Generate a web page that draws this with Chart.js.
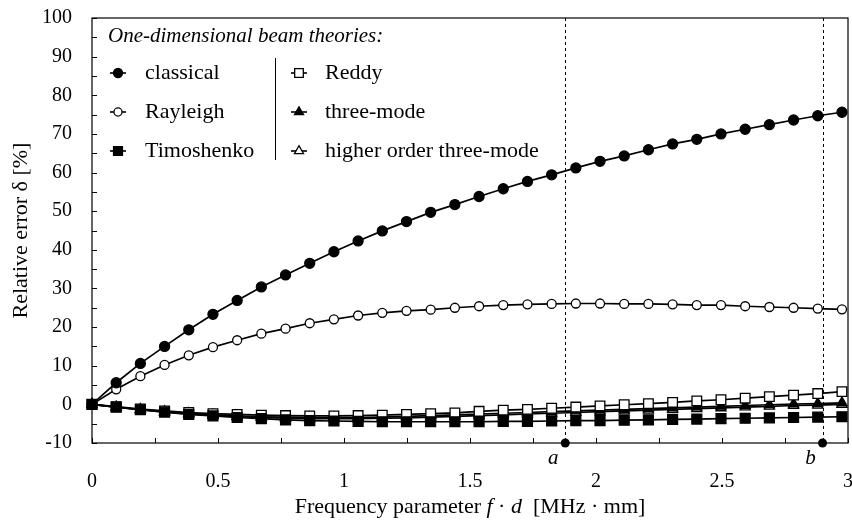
<!DOCTYPE html>
<html>
<head>
<meta charset="utf-8">
<script src="https://cdn.jsdelivr.net/npm/chart.js@4.4.1/dist/chart.umd.min.js"></script>
<style>
  html, body { margin: 0; padding: 0; background: #fff; }
  #wrap { width: 852px; height: 520px; }
</style>
</head>
<body>
<div id="wrap"><canvas id="errChart" width="852" height="520"></canvas></div>
<script>
// ── Data ───────────────────────────────────────────────────────────────────
const fd = [0, 0.096, 0.192, 0.288, 0.384, 0.48, 0.576, 0.672, 0.768, 0.864, 0.96,
            1.056, 1.152, 1.248, 1.344, 1.44, 1.536, 1.632, 1.728, 1.824, 1.92,
            2.016, 2.112, 2.208, 2.304, 2.4, 2.496, 2.592, 2.688, 2.784, 2.88, 2.976];

const classical  = [0, 5.6, 10.6, 15.0, 19.3, 23.3, 26.9, 30.4, 33.5, 36.5, 39.5,
                    42.3, 44.9, 47.3, 49.7, 51.7, 53.8, 55.8, 57.7, 59.4, 61.2,
                    62.9, 64.3, 65.9, 67.4, 68.6, 70.0, 71.2, 72.4, 73.6, 74.7, 75.6];
const rayleigh   = [0, 3.9, 7.3, 10.2, 12.7, 14.8, 16.6, 18.3, 19.6, 21.0, 22.0,
                    23.0, 23.7, 24.2, 24.5, 25.0, 25.4, 25.7, 25.9, 26.0, 26.1,
                    26.1, 26.0, 26.0, 25.9, 25.7, 25.7, 25.4, 25.2, 25.0, 24.8, 24.6];
const timoshenko = [0, -0.7, -1.4, -2.0, -2.6, -3.0, -3.4, -3.7, -4.0, -4.2, -4.3,
                    -4.4, -4.5, -4.5, -4.5, -4.5, -4.5, -4.4, -4.4, -4.3, -4.2,
                    -4.2, -4.1, -4.0, -3.9, -3.8, -3.7, -3.6, -3.5, -3.4, -3.3, -3.2];
const reddy      = [0, -0.6, -1.2, -1.7, -2.1, -2.4, -2.6, -2.8, -2.9, -3.0, -3.0,
                    -2.9, -2.8, -2.6, -2.4, -2.2, -1.8, -1.5, -1.3, -1.0, -0.7,
                    -0.4, -0.1, 0.2, 0.5, 0.9, 1.2, 1.6, 2.0, 2.4, 2.8, 3.3];
const threeMode  = [0, -0.7, -1.3, -1.9, -2.3, -2.7, -3.0, -3.2, -3.3, -3.4, -3.4,
                    -3.4, -3.3, -3.1, -2.9, -2.7, -2.5, -2.3, -2.1, -1.9, -1.7,
                    -1.5, -1.3, -1.1, -0.9, -0.7, -0.5, -0.3, -0.1, 0.1, 0.2, 0.4];
const higherThreeMode = [0, -0.7, -1.4, -2.0, -2.5, -2.9, -3.2, -3.4, -3.6, -3.7, -3.7,
                    -3.7, -3.6, -3.5, -3.3, -3.1, -2.9, -2.7, -2.5, -2.3, -2.1,
                    -1.9, -1.7, -1.5, -1.3, -1.1, -0.9, -0.7, -0.5, -0.3, -0.2, 0.0];

const seriesLabels = ['classical', 'Rayleigh', 'Timoshenko', 'Reddy', 'three-mode', 'higher order three-mode'];
const markerX      = [1.878, 2.899];
const markerLabels = ['a', 'b'];
const legendTitle  = 'One-dimensional beam theories:';

const FONT = '"Liberation Serif", "DejaVu Serif", serif';

const pts = ys => ys.map((y, i) => ({ x: fd[i], y }));

function series(label, data, style, radius, filled) {
    return {
        label, data: pts(data),
        borderColor: '#000', borderWidth: 1.7, tension: 0,
        pointStyle: style, pointRadius: radius, pointHoverRadius: radius,
        pointBackgroundColor: filled ? '#000' : '#fff',
        pointBorderColor: '#000', pointBorderWidth: 1.3,
        clip: false
    };
}

// ── Custom drawing: frame, inward ticks, markers a/b, legend, axis titles ──
const decor = {
    id: 'decor',
    beforeDatasetsDraw(chart) {
        const { ctx, chartArea: ca, scales: { x } } = chart;
        ctx.save();
        ctx.strokeStyle = '#000';
        ctx.lineWidth = 1;
        ctx.setLineDash([3, 3]);
        markerX.forEach(v => {
            const px = Math.round(x.getPixelForValue(v)) + 0.5;
            ctx.beginPath();
            ctx.moveTo(px, ca.top);
            ctx.lineTo(px, ca.bottom);
            ctx.stroke();
        });
        ctx.restore();
    },
    afterDraw(chart) {
        const { ctx, chartArea: ca, scales: { x, y } } = chart;
        ctx.save();
        ctx.strokeStyle = '#000';
        ctx.lineWidth = 1.2;
        ctx.strokeRect(ca.left, ca.top, ca.right - ca.left, ca.bottom - ca.top);

        // inward ticks
        ctx.lineWidth = 1;
        ctx.beginPath();
        for (let v = -10; v <= 100; v += 5) {
            const py = Math.round(y.getPixelForValue(v)) + 0.5;
            ctx.moveTo(ca.left, py); ctx.lineTo(ca.left + 5, py);
        }
        for (let v = 0; v <= 3; v += 0.25) {
            const px = Math.round(x.getPixelForValue(v)) + 0.5;
            ctx.moveTo(px, ca.bottom); ctx.lineTo(px, ca.bottom - 5);
        }
        ctx.stroke();

        // marker dots + labels
        ctx.fillStyle = '#000';
        markerX.forEach((v, i) => {
            const px = x.getPixelForValue(v);
            ctx.beginPath();
            ctx.arc(px, ca.bottom, 4.5, 0, Math.PI * 2);
            ctx.fill();
            ctx.font = 'italic 21px ' + FONT;
            ctx.textAlign = 'center';
            ctx.textBaseline = 'middle';
            ctx.fillText(markerLabels[i], px - 12, ca.bottom + 15);
        });

        // legend
        ctx.textAlign = 'left';
        ctx.textBaseline = 'middle';
        ctx.font = 'italic 21px ' + FONT;
        ctx.fillText(legendTitle, 108, 36);
        ctx.font = '22px ' + FONT;
        const rows = [73, 112, 151];
        const cols = [{ sym: 118, txt: 145 }, { sym: 299, txt: 325 }];
        chart.data.datasets.forEach((ds, i) => {
            const c = cols[Math.floor(i / 3)], ry = rows[i % 3];
            ctx.strokeStyle = '#000';
            ctx.lineWidth = 1.6;
            ctx.beginPath();
            ctx.moveTo(c.sym - 8, ry); ctx.lineTo(c.sym + 8, ry);
            ctx.stroke();
            ctx.fillStyle = ds.pointBackgroundColor;
            ctx.lineWidth = ds.pointBorderWidth;
            Chart.helpers.drawPoint(ctx, { pointStyle: ds.pointStyle, radius: ds.pointRadius * 0.9, rotation: 0, borderWidth: ds.pointBorderWidth }, c.sym, ry);
            ctx.fillStyle = '#000';
            ctx.fillText(ds.label, c.txt, ry);
        });
        ctx.lineWidth = 1;
        ctx.beginPath();
        ctx.moveTo(275.5, 58); ctx.lineTo(275.5, 160);
        ctx.stroke();

        // axis titles with mixed italic
        const drawParts = (parts, cx, cy) => {
            const fontOf = p => (p.i ? 'italic ' : '') + '22px ' + FONT;
            let w = 0;
            parts.forEach(p => { ctx.font = fontOf(p); w += ctx.measureText(p.t).width; });
            let cur = cx - w / 2;
            parts.forEach(p => {
                ctx.font = fontOf(p);
                ctx.fillText(p.t, cur, cy);
                cur += ctx.measureText(p.t).width;
            });
        };
        ctx.fillStyle = '#000';
        ctx.textAlign = 'left';
        ctx.textBaseline = 'middle';
        drawParts([{ t: 'Frequency parameter ' }, { t: 'f', i: true }, { t: ' · ' }, { t: 'd', i: true }, { t: '  [MHz · mm]' }],
                  (ca.left + ca.right) / 2, 507);
        ctx.save();
        ctx.translate(21, (ca.top + ca.bottom) / 2);
        ctx.rotate(-Math.PI / 2);
        drawParts([{ t: 'Relative error ' }, { t: 'δ' }, { t: ' [%]' }], 0, 0);
        ctx.restore();
        ctx.restore();
    }
};

const chart = new Chart(document.getElementById('errChart').getContext('2d'), {
    type: 'line',
    data: {
        datasets: [
            series(seriesLabels[0], classical, 'circle', 5, true),
            series(seriesLabels[1], rayleigh, 'circle', 4.5, false),
            series(seriesLabels[2], timoshenko, 'rect', 7, true),
            series(seriesLabels[3], reddy, 'rect', 6.8, false),
            series(seriesLabels[4], threeMode, 'triangle', 5.8, true),
            series(seriesLabels[5], higherThreeMode, 'triangle', 5.8, false)
        ]
    },
    options: {
        responsive: false,
        animation: false,
        devicePixelRatio: 1,
        layout: { autoPadding: false, padding: { top: 18, right: 4, left: 0, bottom: 0 } },
        plugins: { legend: { display: false }, tooltip: { enabled: false } },
        scales: {
            x: {
                type: 'linear', min: 0, max: 3,
                grid: { display: false, drawTicks: false },
                border: { display: false },
                ticks: { stepSize: 0.5, padding: 27, color: '#000', font: { family: FONT, size: 20 },
                         callback: v => String(+v.toFixed(2)) },
                afterFit: s => { s.height = 77; s.paddingLeft = 0; s.paddingRight = 0; }
            },
            y: {
                min: -10, max: 100,
                grid: { display: false, drawTicks: false },
                border: { display: false },
                ticks: { stepSize: 10, padding: 20, color: '#000', font: { family: FONT, size: 20 } },
                afterFit: s => { s.width = 92; s.paddingTop = 0; s.paddingBottom = 0; }
            }
        }
    },
    plugins: [decor]
});
</script>
</body>
</html>
